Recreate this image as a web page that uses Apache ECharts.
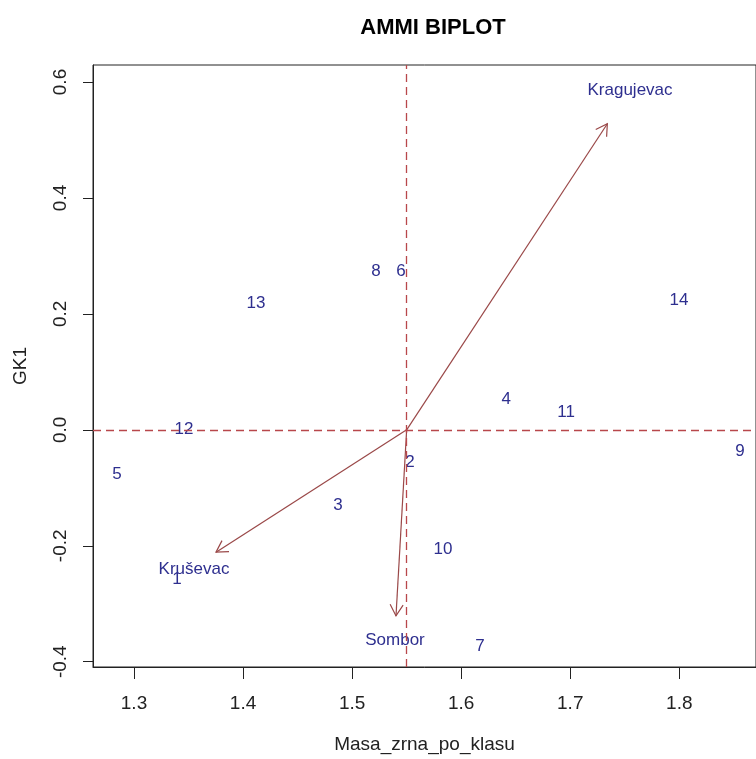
<!DOCTYPE html>
<html>
<head>
<meta charset="utf-8">
<script src="https://cdn.jsdelivr.net/npm/echarts@6/dist/echarts.min.js"></script>
<style>html,body{margin:0;padding:0;background:#fff}#c{width:756px;height:759px}</style>
</head>
<body>
<div id="c"></div>
<script>
// Genotypes (labels drawn as text at their biplot position)
const genotypes = ['1','2','3','4','5','6','7','8','9','10','11','12','13','14'];
const genoX = [1.3394, 1.5531, 1.4871, 1.6412, 1.2844, 1.5448, 1.6173, 1.5219, 1.8557, 1.5833, 1.6961, 1.3458, 1.4119, 1.7997];
const genoY = [-0.258, -0.056, -0.130, 0.053, -0.077, 0.273, -0.373, 0.273, -0.037, -0.206, 0.030, 0.001, 0.218, 0.223];

// Environments: arrow tips and label positions
const environments = ['Kragujevac', 'Kruševac', 'Sombor'];
const envTipX = [1.734, 1.3752, 1.5402];
const envTipY = [0.528, -0.211, -0.321];
const envLabelX = [1.7548, 1.3550, 1.5393];
const envLabelY = [0.586, -0.2405, -0.363];

// Origin (mean of trait, 0)
const originX = 1.55;
const originY = 0;

// Ticks
const xTicks = [1.3, 1.4, 1.5, 1.6, 1.7, 1.8];
const yTicks = [-0.4, -0.2, 0.0, 0.2, 0.4, 0.6];

const textColor = '#2E2F8F';
const arrowColor = '#9A4848';
const dashColor = '#B8474B';
const FONT = '"Liberation Sans", Arial, sans-serif';

const chart = echarts.init(document.getElementById('c'), null, {renderer: 'canvas'});

function textItem(labels, size) {
  return function (params, api) {
    const p = api.coord([api.value(0), api.value(1)]);
    return {
      type: 'text', x: p[0], y: p[1],
      style: {text: labels[params.dataIndex], fill: textColor, font: size + 'px ' + FONT, align: 'center', verticalAlign: 'middle'}
    };
  };
}

function arrowItem(params, api) {
  const a = api.coord([api.value(0), api.value(1)]);
  const b = api.coord([api.value(2), api.value(3)]);
  const ang = Math.atan2(b[1] - a[1], b[0] - a[0]);
  const L = 13, w = Math.PI / 6;
  const h1 = [b[0] - L * Math.cos(ang - w), b[1] - L * Math.sin(ang - w)];
  const h2 = [b[0] - L * Math.cos(ang + w), b[1] - L * Math.sin(ang + w)];
  const st = {stroke: arrowColor, lineWidth: 1.2, fill: null};
  return {
    type: 'group',
    children: [
      {type: 'line', shape: {x1: a[0], y1: a[1], x2: b[0], y2: b[1]}, style: st},
      {type: 'polyline', shape: {points: [h1, b, h2]}, style: st}
    ]
  };
}

chart.setOption({
  animation: false,
  backgroundColor: '#fff',
  title: {
    text: 'AMMI BIPLOT', left: 428, top: 12, textAlign: 'center',
    textStyle: {fontFamily: FONT, fontWeight: 'bold', fontSize: 22, color: '#000'}
  },
  grid: {left: 93, top: 65, right: 0, bottom: 91, show: true, borderColor: '#222', borderWidth: 1, backgroundColor: 'transparent'},
  xAxis: {
    type: 'value', min: 1.2624, max: 1.8703,
    name: 'Masa_zrna_po_klasu', nameLocation: 'middle', nameGap: 68,
    nameTextStyle: {fontFamily: FONT, fontSize: 19, color: '#222'},
    axisLine: {show: true, onZero: false, lineStyle: {color: '#222', width: 1}},
    axisTick: {show: true, length: 12, customValues: xTicks, lineStyle: {color: '#222'}},
    axisLabel: {customValues: xTicks, margin: 27, fontFamily: FONT, fontSize: 19, color: '#222', formatter: v => v.toFixed(1)},
    splitLine: {show: false}
  },
  yAxis: {
    type: 'value', min: -0.4091, max: 0.6293,
    name: 'GK1', nameLocation: 'middle', nameGap: 63, nameRotate: 90,
    nameTextStyle: {fontFamily: FONT, fontSize: 19, color: '#222'},
    axisLine: {show: true, onZero: false, lineStyle: {color: '#222', width: 1}},
    axisTick: {show: true, length: 10, customValues: yTicks, lineStyle: {color: '#222'}},
    axisLabel: {customValues: yTicks, rotate: 90, margin: 23, fontFamily: FONT, fontSize: 19, color: '#222', formatter: v => v.toFixed(1)},
    splitLine: {show: false}
  },
  series: [
    {
      type: 'custom', name: 'refLines', data: [[originX, originY]],
      renderItem: () => ({type: 'group', children: []}),
      markLine: {
        silent: true, symbol: 'none', label: {show: false},
        lineStyle: {color: dashColor, type: [8, 5], width: 1.3},
        data: [{xAxis: originX}, {yAxis: originY}]
      }
    },
    {
      type: 'custom', name: 'arrows',
      data: envTipX.map((x, i) => [originX, originY, x, envTipY[i]]),
      renderItem: arrowItem
    },
    {
      type: 'custom', name: 'genotypes',
      data: genoX.map((x, i) => [x, genoY[i]]),
      renderItem: textItem(genotypes, 17)
    },
    {
      type: 'custom', name: 'environments',
      data: envLabelX.map((x, i) => [x, envLabelY[i]]),
      renderItem: textItem(environments, 17)
    }
  ]
});
</script>
</body>
</html>
